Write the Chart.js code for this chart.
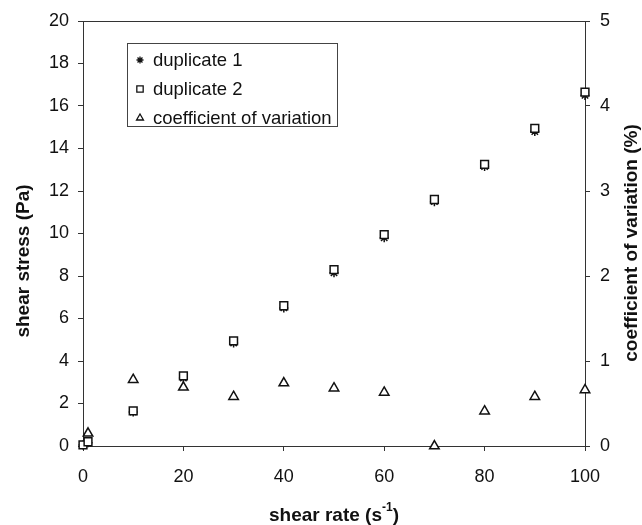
<!DOCTYPE html>
<html>
<head>
<meta charset="utf-8">
<script src="https://cdn.jsdelivr.net/npm/chart.js@4"></script>
<style>
  html, body { margin: 0; padding: 0; background: #fff; }
  #wrap { width: 642px; height: 525px; }
</style>
</head>
<body>
<div id="wrap"><canvas id="chart" width="642" height="525"></canvas></div>
<script>
// shear rate (s-1)
const shearRate = [0, 1, 10, 20, 30, 40, 50, 60, 70, 80, 90, 100];
// shear stress (Pa)
const duplicate1 = [0.05, 0.15, 1.6, 3.2, 4.85, 6.5, 8.15, 9.8, 11.5, 13.15, 14.8, 16.5];
const duplicate2 = [0.05, 0.2, 1.65, 3.3, 4.95, 6.6, 8.3, 9.95, 11.6, 13.25, 14.95, 16.65];
// coefficient of variation (%)
const cvShear = [1, 10, 20, 30, 40, 50, 60, 70, 80, 90, 100];
const coefVariation = [0.15, 0.78, 0.69, 0.58, 0.74, 0.68, 0.63, 0.0, 0.41, 0.58, 0.66];

const xTicks = [0, 20, 40, 60, 80, 100];

const FONT = "'Liberation Sans', Arial, sans-serif";

function toPoints(xs, ys) {
    return xs.map((x, i) => ({ x: x, y: ys[i] }));
}

// Draws the frame top line, axis titles and the boxed legend
const decorations = {
    id: 'decorations',
    afterDraw(chart) {
        const ctx = chart.ctx;
        const area = chart.chartArea;
        ctx.save();
        ctx.strokeStyle = '#333';
        ctx.lineWidth = 1;
        ctx.beginPath();
        ctx.moveTo(area.left, area.top + 0.5);
        ctx.lineTo(area.right, area.top + 0.5);
        ctx.stroke();

        ctx.fillStyle = '#111';
        ctx.font = 'bold 19px ' + FONT;
        ctx.textAlign = 'center';
        ctx.textBaseline = 'middle';

        ctx.save();
        ctx.translate(24, 261);
        ctx.rotate(-Math.PI / 2);
        ctx.fillText('shear stress (Pa)', 0, 0);
        ctx.restore();

        ctx.save();
        ctx.translate(632, 243);
        ctx.rotate(-Math.PI / 2);
        ctx.fillText('coefficient of variation (%)', 0, 0);
        ctx.restore();

        // x title with superscript
        const base = 'shear rate (s';
        const sup = '-1';
        const close = ')';
        ctx.textAlign = 'left';
        const wBase = ctx.measureText(base).width;
        const wClose = ctx.measureText(close).width;
        ctx.font = 'bold 12px ' + FONT;
        const wSup = ctx.measureText(sup).width;
        const startX = 334 - (wBase + wSup + wClose) / 2;
        ctx.font = 'bold 19px ' + FONT;
        ctx.fillText(base, startX, 516);
        ctx.font = 'bold 12px ' + FONT;
        ctx.fillText(sup, startX + wBase, 508);
        ctx.font = 'bold 19px ' + FONT;
        ctx.fillText(close, startX + wBase + wSup, 516);

        // legend
        ctx.strokeStyle = '#444';
        ctx.strokeRect(127.5, 43.5, 210, 83);
        const items = [
            { text: 'duplicate 1', style: 'star', r: 3.5, y: 60 },
            { text: 'duplicate 2', style: 'rect', r: 4.5, y: 89 },
            { text: 'coefficient of variation', style: 'triangle', r: 4, y: 118 }
        ];
        ctx.font = '18.5px ' + FONT;
        ctx.textAlign = 'left';
        ctx.textBaseline = 'middle';
        items.forEach(it => {
            ctx.strokeStyle = '#111';
            ctx.fillStyle = '#fff';
            ctx.lineWidth = 1.3;
            Chart.helpers.drawPoint(ctx, { pointStyle: it.style, radius: it.r, rotation: 0, borderWidth: 1.3 }, 140, it.y);
            ctx.fillStyle = '#111';
            ctx.fillText(it.text, 153, it.y + 1);
        });
        ctx.restore();
    }
};

const axisColor = '#333';
const tickFont = { family: FONT, size: 18 };

new Chart(document.getElementById('chart'), {
    type: 'scatter',
    data: {
        datasets: [
            {
                label: 'duplicate 1',
                data: toPoints(shearRate, duplicate1),
                yAxisID: 'y',
                pointStyle: 'star',
                pointRadius: 4.5,
                borderColor: '#111',
                backgroundColor: '#111',
                borderWidth: 1.5,
                clip: false,
                order: 2
            },
            {
                label: 'duplicate 2',
                data: toPoints(shearRate, duplicate2),
                yAxisID: 'y',
                pointStyle: 'rect',
                pointRadius: 5.5,
                borderColor: '#111',
                backgroundColor: '#fff',
                borderWidth: 1.5,
                clip: false,
                order: 1
            },
            {
                label: 'coefficient of variation',
                data: toPoints(cvShear, coefVariation),
                yAxisID: 'y2',
                pointStyle: 'triangle',
                pointRadius: 5.5,
                borderColor: '#111',
                backgroundColor: '#fff',
                borderWidth: 1.5,
                clip: false,
                order: 0
            }
        ]
    },
    options: {
        responsive: false,
        animation: false,
        events: [],
        layout: { padding: { top: 21, left: 0, right: 0, bottom: 0 } },
        plugins: {
            legend: { display: false },
            tooltip: { enabled: false }
        },
        scales: {
            x: {
                type: 'linear',
                min: 0,
                max: 100,
                afterBuildTicks: s => { s.ticks = xTicks.map(v => ({ value: v })); },
                afterFit: s => { s.height = 79; },
                border: { color: axisColor, width: 1 },
                grid: { drawOnChartArea: false, tickLength: 5, color: axisColor },
                ticks: { color: '#111', font: tickFont, padding: 15, maxRotation: 0 }
            },
            y: {
                position: 'left',
                min: 0,
                max: 20,
                afterFit: s => { s.width = 83; },
                border: { color: axisColor, width: 1 },
                grid: { drawOnChartArea: false, tickLength: 5, color: axisColor },
                ticks: { stepSize: 2, color: '#111', font: tickFont, padding: 9 }
            },
            y2: {
                position: 'right',
                min: 0,
                max: 5,
                afterFit: s => { s.width = 57; },
                border: { color: axisColor, width: 1 },
                grid: { drawOnChartArea: false, tickLength: 5, color: axisColor },
                ticks: { stepSize: 1, color: '#111', font: tickFont, padding: 10 }
            }
        }
    },
    plugins: [decorations]
});
</script>
</body>
</html>
